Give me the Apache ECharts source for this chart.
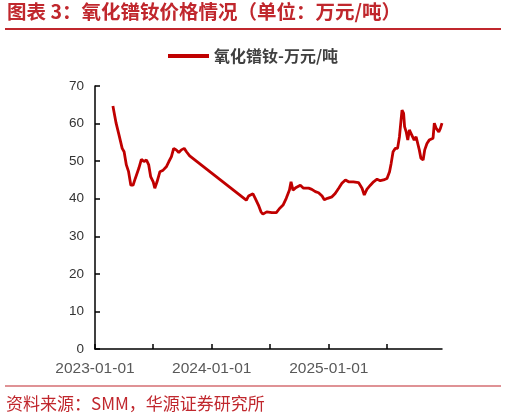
<!DOCTYPE html>
<html>
<head>
<meta charset="utf-8">
<script src="https://cdn.jsdelivr.net/npm/echarts@6/dist/echarts.min.js"></script>
<style>
html,body{margin:0;padding:0;background:#fff;}
#c{width:506px;height:419px;}
</style>
</head>
<body>
<div id="c"></div>
<script>
var titleText = '图表 3：氧化镨钕价格情况（单位：万元/吨）';
var sourceText = '资料来源：SMM，华源证券研究所';
var seriesName = '氧化镨钕-万元/吨';
var dates = [
'2023-02-26','2023-03-08','2023-03-17','2023-03-22','2023-03-27','2023-04-02','2023-04-09','2023-04-16','2023-04-23','2023-04-30',
'2023-05-07','2023-05-18','2023-05-26','2023-06-03','2023-06-11','2023-06-18','2023-06-24','2023-07-02','2023-07-07','2023-07-14',
'2023-07-23','2023-08-02','2023-08-12','2023-08-20','2023-08-28','2023-09-04','2023-09-12','2023-09-20','2023-09-28','2023-10-07',
'2023-10-14','2023-10-24',
'2024-04-18','2024-04-25','2024-04-30','2024-05-09','2024-05-16','2024-05-26','2024-06-03','2024-06-09','2024-06-21','2024-07-07',
'2024-07-21','2024-07-31','2024-08-11','2024-08-21','2024-08-31','2024-09-05','2024-09-11','2024-09-21','2024-10-04','2024-10-14',
'2024-10-30','2024-11-09','2024-11-20','2024-11-30','2024-12-11','2024-12-18','2024-12-28',
'2025-01-11','2025-01-21','2025-02-01','2025-02-11','2025-02-22','2025-03-04','2025-03-19','2025-04-04','2025-04-15','2025-04-22',
'2025-04-30','2025-05-11','2025-05-21','2025-06-01','2025-06-11','2025-06-21','2025-07-02','2025-07-10','2025-07-15','2025-07-21',
'2025-07-28','2025-08-04','2025-08-10','2025-08-15','2025-08-18','2025-08-23','2025-08-26','2025-08-31','2025-09-05','2025-09-10',
'2025-09-15','2025-09-21','2025-09-25','2025-10-01','2025-10-06','2025-10-11','2025-10-16','2025-10-23','2025-10-28','2025-11-04',
'2025-11-11','2025-11-17','2025-11-23','2025-11-27','2025-12-03','2025-12-11','2025-12-16','2025-12-21'
];
var prices = [
64.7,60.1,57.0,55.2,53.4,52.5,49.0,47.2,43.6,43.6,
45.4,48.1,50.5,49.9,50.3,49.0,45.9,44.5,42.8,44.5,
47.2,47.6,48.5,49.9,51.2,53.4,53.0,52.3,53.0,53.4,
52.5,51.4,
39.6,40.7,40.5,41.3,40.1,38.3,36.5,35.9,36.5,36.3,
36.3,37.4,38.3,40.1,42.3,44.5,42.3,43.0,43.6,42.8,
42.8,42.5,41.9,41.6,40.7,39.7,40.1,
40.5,41.4,42.8,44.1,45.0,44.5,44.5,44.3,42.8,41.0,
42.5,43.6,44.5,45.2,44.8,45.0,45.4,47.2,49.4,52.5,
53.4,53.4,56.5,61.0,63.6,62.7,59.2,57.8,55.6,58.3,
57.4,57.8,55.6,56.5,56.1,53.0,50.8,50.3,53.0,54.7,
55.6,55.2,56.1,60.1,58.7,57.8,58.7,60.1
];
var xMidTickDates = ['2023-07-01','2024-07-01','2025-07-01'];
var xLabelDates = ['2023-01-01','2024-01-01','2025-01-01'];
var yTicks = [0,10,20,30,40,50,60,70];

var ts = function(s){ return Date.parse(s + 'T00:00:00Z'); };
var fmt = function(v){ var d = new Date(v); var m = d.getUTCMonth()+1, dd = d.getUTCDate();
  return d.getUTCFullYear() + '-' + (m<10?'0':'') + m + '-' + (dd<10?'0':'') + dd; };
var data = dates.map(function(d,i){ return [ts(d), prices[i]]; });
var xMin = ts('2023-01-01'), xMax = ts(dates[dates.length-1]);

var chart = echarts.init(document.getElementById('c'), null, {renderer:'canvas'});
var red = '#C0272D';
chart.setOption({
  animation: false,
  backgroundColor: '#fff',
  title: {
    text: titleText, left: 7, top: 2, padding: 0,
    textStyle: {color: red, fontSize: 19.5, fontWeight: 'bold', fontFamily: 'Noto Sans CJK SC'}
  },
  graphic: [
    {type:'line', shape:{x1:5,y1:29,x2:501,y2:29}, style:{stroke:red, lineWidth:2}},
    {type:'line', shape:{x1:5,y1:386,x2:501,y2:386}, style:{stroke:red, lineWidth:1.2}},
    {type:'text', left: 6, top: 395, style:{text: sourceText, fill: red, fontSize: 17, fontFamily: 'Noto Sans CJK SC'}}
  ],
  legend: {
    data: [seriesName], left: 168, top: 48, padding: 0,
    icon: 'rect', itemWidth: 41, itemHeight: 4, itemGap: 6,
    textStyle: {color: '#404040', fontSize: 16, fontWeight: 'bold', fontFamily: 'Noto Sans CJK SC'}
  },
  grid: {left: 95, right: 64, top: 86, bottom: 70, containLabel: false},
  xAxis: [{
    type: 'value', min: xMin, max: xMax,
    splitLine: {show: false},
    axisLine: {lineStyle: {color: '#000', width: 1.5}},
    axisTick: {show: true, inside: true, length: 5, lineStyle: {color:'#000', width: 1.5}, customValues: xMidTickDates.map(ts)},
    axisLabel: {customValues: xLabelDates.map(ts), formatter: function(v){ return fmt(v); },
      color: '#595959', fontSize: 15.5, fontFamily: 'Liberation Sans', margin: 12}
  }, {
    type: 'value', min: xMin, max: xMax, position: 'bottom', offset: 0,
    splitLine: {show: false},
    axisLine: {show: false},
    axisTick: {show: true, inside: true, length: 5, lineStyle: {color:'#000', width: 1.5}, customValues: xLabelDates.map(ts)},
    axisLabel: {show: false}
  }],
  yAxis: {
    type: 'value', min: 0, max: 70, interval: 10,
    splitLine: {show: false},
    axisLine: {show: true, lineStyle: {color: '#000', width: 1.5}},
    axisTick: {show: true, inside: true, length: 5, lineStyle: {color:'#000', width: 1.5}, customValues: yTicks},
    axisLabel: {color: '#333', fontSize: 13.5, fontFamily: 'Liberation Sans', margin: 11, customValues: yTicks}
  },
  series: [{
    name: seriesName, type: 'line', data: data, xAxisIndex: 0,
    showSymbol: false, symbol: 'none',
    lineStyle: {color: '#C00000', width: 2.8},
    itemStyle: {color: '#C00000'}
  }]
});
</script>
</body>
</html>
